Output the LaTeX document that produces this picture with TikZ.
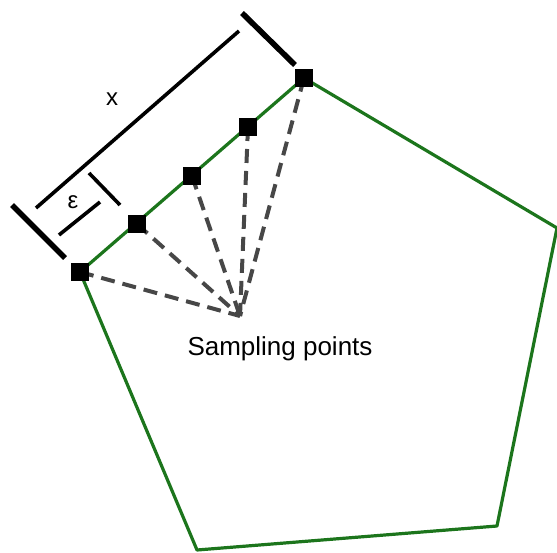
\documentclass[tikz,border=0pt]{standalone}
\usepackage{fontspec}
\setmainfont{Liberation Sans}
\usepackage{tikz}
\usetikzlibrary{positioning,calc,backgrounds}
\definecolor{edge}{HTML}{1C751C}
\definecolor{ray}{HTML}{474747}
\tikzset{
  spt/.style={rectangle,fill=black,minimum size=9pt,inner sep=0pt},
  side/.style={draw=edge,line width=1.6pt,line join=round},
  rayl/.style={draw=ray,line width=2pt,dash pattern=on 7pt off 4pt},
  dim/.style={draw=black,line width=1.8pt},
  dimend/.style={draw=black,line width=2.8pt},
  lbl/.style={font=\fontsize{12}{14}\selectfont,inner sep=0pt},
}

\begin{document}
\begin{tikzpicture}[x=0.5pt,y=-0.5pt]
  \useasboundingbox (0,0) rectangle (557,552);
  % pentagon corners
  \coordinate (p1) at (304,78);
  \coordinate (p2) at (557,228);
  \coordinate (p3) at (497,526);
  \coordinate (p4) at (197,550);
  \coordinate (p5) at (80,272);
  \coordinate (f) at (240,316);
  % sampling points along the top-left side
  \node[spt] (s0) at (p5) {};
  \node[spt] (s1) at (137,224) {};
  \node[spt] (s2) at (192,176) {};
  \node[spt] (s3) at (248,127) {};
  \node[spt] (s4) at (p1) {};
  \begin{scope}[on background layer]
    \draw[side] (p1)--(p2)--(p3)--(p4)--(p5)--cycle;
    \foreach \i in {0,...,4}
      \draw[rayl] (s\i.center)--(f);
  \end{scope}
  \node[font=\fontsize{13}{15}\selectfont] (cap) at (280,349) {Sampling points};
  % dimension x
  \coordinate (xa) at (36,208);
  \coordinate (xb) at (239,31);
  \coordinate (ta1) at (12,205);
  \coordinate (ta2) at (65,258);
  \coordinate (tb1) at (242,13);
  \coordinate (tb2) at (295,65);
  \draw[dim] (xa)--(xb);
  \draw[dimend] (ta1)--(ta2);
  \draw[dimend] (tb1)--(tb2);
  \node[lbl] (xl) at (112,99) {x};
  % dimension epsilon
  \coordinate (ea) at (59,235);
  \coordinate (eb) at (100,202);
  \coordinate (te1) at (89,173);
  \coordinate (te2) at (120,205);
  \draw[dim] (ea)--(eb);
  \draw[dim] (te1)--(te2);
  \node[lbl] (el) at (73,202) {ε};
\end{tikzpicture}
\end{document}
